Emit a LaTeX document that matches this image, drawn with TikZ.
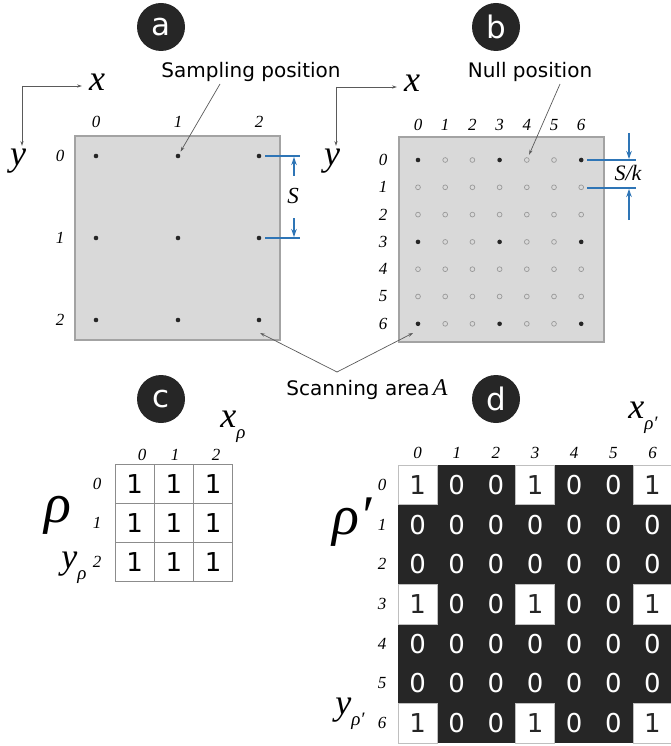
\documentclass[tikz,border=0pt]{standalone}
\usepackage{fontspec}
\setmainfont{Liberation Serif}
\newfontfamily\labsans{DejaVu Sans}
\newfontfamily\labserif{Liberation Serif}
\usetikzlibrary{arrows.meta,calc}
\definecolor{areagray}{HTML}{D9D9D9}
\definecolor{edgegray}{HTML}{A3A3A3}
\definecolor{inkdark}{HTML}{262626}
\definecolor{dimblue}{HTML}{2E75B6}
\definecolor{leadgray}{HTML}{5A5A5A}
\newcommand{\fs}[1]{\fontsize{#1}{#1}\selectfont}
\tikzset{
  areabox/.style={fill=areagray,draw=edgegray,line width=1.2},
  sdot/.style={circle,fill=black!85,inner sep=0,minimum size=4.6},
  ndot/.style={circle,draw=gray!80,line width=0.7,inner sep=0,minimum size=4.8},
  badge/.style={circle,fill=inkdark,text=white,inner sep=0,minimum size=48,font=\labsans\fs{31}},
  leader/.style={draw=leadgray,line width=0.7,-{Stealth[length=5,width=3.2]}},
  axisarrow/.style={draw=leadgray,line width=0.8,-{Stealth[length=5,width=3.2]}},
  dimline/.style={draw=dimblue,line width=1.1},
  dimarrow/.style={draw=dimblue,line width=1.1,-{Stealth[length=8,width=5.5]}},
  idx/.style={font=\labserif\itshape\fs{17},inner sep=0},
  axlab/.style={font=\labserif\itshape\fs{36},inner sep=0},
  caption/.style={font=\labsans\fs{20},inner sep=0},
  gridnum/.style={font=\labsans\fs{26},inner sep=0},
}
\begin{document}
\begin{tikzpicture}[x=1pt,y=-1pt]
\useasboundingbox (0,0) rectangle (671,746);

% ---------- panel a: scanning grid with sampling positions ----------
\node[badge] (ba) at (161,27) {a};
\draw[axisarrow] (22,86) coordinate (aorig) -- (82,86) coordinate (axend);
\draw[axisarrow] (aorig) -- (22,146) coordinate (ayend);
\node[axlab] (ax) at (97,82) {x};
\node[axlab] (ay) at (18,161) {y};
\node[areabox,minimum width=205,minimum height=204,inner sep=0] (areaa) at (177.5,238) {};
\foreach \c/\px in {0/96,1/178,2/259}{
  \node[idx] (acol\c) at (\px,122) {\c};
  \foreach \r/\py in {0/156,1/238,2/320}{
    \node[sdot] (a\r\c) at (\px,\py) {};
  }
}
\foreach \r/\py in {0/156,1/238,2/320}{
  \node[idx] (arow\r) at (60,\py) {\r};
}
\node[caption] (samp) at (251,72) {Sampling position};
\draw[leader,shorten >=2.5] (220,84) coordinate (samptail) -- (a01);
% spacing S
\draw[dimline] (265,156) coordinate (s1a) -- (300,156) coordinate (s1b);
\draw[dimline] (265,238) coordinate (s2a) -- (300,238) coordinate (s2b);
\draw[dimarrow] (294,176) coordinate (su) -- (294,157) coordinate (sut);
\draw[dimarrow] (294,218) coordinate (sd) -- (294,237) coordinate (sdt);
\node[font=\labserif\itshape\fs{23},inner sep=0] (slab) at (293,196) {S};

% ---------- panel b: refined grid with null positions ----------
\node[badge] (bb) at (496,27) {b};
\draw[axisarrow] (336,87) coordinate (borig) -- (397,87) coordinate (bxend);
\draw[axisarrow] (borig) -- (336,146) coordinate (byend);
\node[axlab] (bx) at (412,83) {x};
\node[axlab] (by) at (332,161) {y};
\node[areabox,minimum width=205,minimum height=205,inner sep=0] (areab) at (501.5,239.5) {};
\foreach \c in {0,...,6}{
  \pgfmathsetmacro{\px}{418+27.2*\c}
  \node[idx] (bcol\c) at (\px,125) {\c};
  \foreach \r in {0,...,6}{
    \pgfmathsetmacro{\py}{160+27.3*\r}
    \pgfmathtruncatemacro{\keep}{(mod(\r,3)==0)&&(mod(\c,3)==0)}
    \ifnum\keep=1
      \node[sdot] (b\r\c) at (\px,\py) {};
    \else
      \node[ndot] (b\r\c) at (\px,\py) {};
    \fi
  }
}
\foreach \r in {0,...,6}{
  \pgfmathsetmacro{\py}{160+27.3*\r}
  \node[idx] (brow\r) at (383,\py) {\r};
}
\node[caption] (null) at (530,72) {Null position};
\draw[leader,shorten >=3] (560,84) coordinate (nulltail) -- (b04);
% spacing S/k
\draw[dimline] (587,160) coordinate (k1a) -- (636,160) coordinate (k1b);
\draw[dimline] (587,188) coordinate (k2a) -- (636,188) coordinate (k2b);
\draw[dimarrow] (629,133) coordinate (ku) -- (629,159) coordinate (kut);
\draw[dimarrow] (629,220) coordinate (kd) -- (629,189) coordinate (kdt);
\node[font=\labserif\itshape\fs{22},inner sep=0] (klab) at (628,173) {S/k};

% ---------- scanning area callout ----------
\node[caption,anchor=base] (scan) at (367,395) {Scanning area\,{\labserif\itshape\fs{24}A}};
\coordinate (apex) at (337,372);
\coordinate (tipa) at (260,333);
\coordinate (tipb) at (413,333);
\draw[leader] (apex) -- (tipa);
\draw[leader] (apex) -- (tipb);

% ---------- panel c: 3x3 matrix rho ----------
\node[badge] (bc) at (161,399) {c};
\foreach \c/\lx in {0/142,1/175,2/216}{
  \node[idx] (ccol\c) at (\lx,455) {\c};
}
\foreach \r in {0,1,2}{
  \pgfmathsetmacro{\py}{464+39.3*\r+19.65}
  \node[idx] (crow\r) at (97,\py) {\r};
  \foreach \c in {0,1,2}{
    \pgfmathsetmacro{\px}{115+39.3*\c+19.65}
    \node[draw=gray!90,line width=0.9,minimum width=39.3,minimum height=39.3,inner sep=0,gridnum] (c\r\c) at (\px,\py) {1};
  }
}
\node[font=\labserif\itshape\fs{56},inner sep=0] (rho) at (58,515) {ρ};
\node[font=\labserif\itshape\fs{36},inner sep=0] (cx) at (233,427) {x\raisebox{-0.3em}{\fs{19}ρ}};
\node[font=\labserif\itshape\fs{36},inner sep=0] (cy) at (74,568) {y\raisebox{-0.3em}{\fs{19}ρ}};

% ---------- panel d: 7x7 binary matrix rho' ----------
\node[badge] (bd) at (496,399) {d};
\fill[inkdark] (398,465) rectangle (672,743);
\foreach \c in {0,...,6}{
  \pgfmathsetmacro{\lx}{398+39.15*\c+19.6}
  \node[idx] (dcol\c) at (\lx,453) {\c};
}
\foreach \r in {0,...,6}{
  \pgfmathsetmacro{\py}{465+39.7*\r+19.85}
  \node[idx] (drow\r) at (382,\py) {\r};
  \foreach \c in {0,...,6}{
    \pgfmathsetmacro{\px}{398+39.15*\c+19.6}
    \pgfmathtruncatemacro{\keep}{(mod(\r,3)==0)&&(mod(\c,3)==0)}
    \ifnum\keep=1
      \node[fill=white,draw=gray!50,line width=0.5,minimum width=39.15,minimum height=39.7,inner sep=0,gridnum,text=black!85] (d\r\c) at (\px,\py) {1};
    \else
      \node[minimum width=39.15,minimum height=39.7,inner sep=0,gridnum,text=white] (d\r\c) at (\px,\py) {0};
    \fi
  }
}
\node[font=\labserif\itshape\fs{56},inner sep=0] (rhop) at (352,522) {ρ′};
\node[font=\labserif\itshape\fs{36},inner sep=0] (dx) at (643,418) {x\raisebox{-0.3em}{\fs{19}ρ′}};
\node[font=\labserif\itshape\fs{36},inner sep=0] (dy) at (350,714) {y\raisebox{-0.3em}{\fs{19}ρ′}};
\end{tikzpicture}
\end{document}
